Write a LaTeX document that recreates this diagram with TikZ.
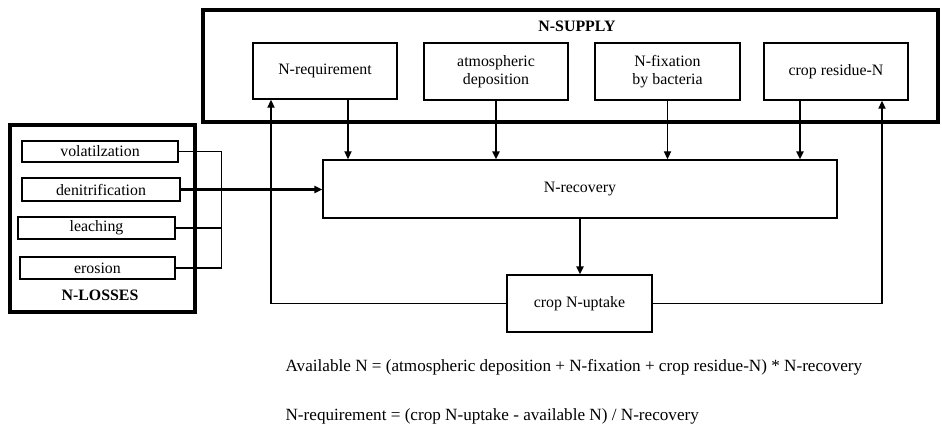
\documentclass[tikz,border=0pt]{standalone}
\usepackage{fontspec}
\setmainfont{Liberation Serif}
\usetikzlibrary{calc,arrows.meta}

\tikzset{
  box/.style={draw, line width=0.9pt, inner sep=0pt, align=center, font=\fontsize{10}{11.5}\selectfont},
  size/.style 2 args={minimum width=#1*0.63pt, minimum height=#2*0.63pt},
  frame/.style={draw, line width=2.4pt},
  head/.style={font=\fontsize{10}{12}\selectfont\bfseries},
  link/.style={line width=0.8pt},
  flow/.style={link, -{Triangle[length=5pt,width=4.5pt]}},
  bigflow/.style={flow, line width=1.3pt},
  formula/.style={anchor=west, font=\fontsize{10.8}{13}\selectfont},
}

\begin{document}
\begin{tikzpicture}[x=0.63pt,y=-0.63pt]
    \useasboundingbox (0,0) rectangle (942,425);

    % supply side
    \draw[frame] (203,10) rectangle (938,122);
    \node[head] (supplylbl) at (577,26) {N-SUPPLY};
    \node[box, size={144}{56}] (nreq) at (325,71) {N-requirement};
    \node[box, size={144}{57}] (atmos) at (496,71.5) {atmospheric\\deposition};
    \node[box, size={145}{57}] (nfix) at (667.5,71.5) {N-fixation\\by bacteria};
    \node[box, size={144}{57}] (resid) at (836,71.5) {crop residue-N};

    % losses
    \draw[frame] (10,125) rectangle (195,312);
    \node[head] (losslbl) at (100,295) {N-LOSSES};
    \node[box, size={156}{21}] (volat) at (100,151.5) {volatilzation};
    \node[box, size={158}{23}] (denit) at (101,189.5) {denitrification};
    \node[box, size={157}{22}] (leach) at (96.5,228) {leaching};
    \node[box, size={155}{22}] (eros) at (97.5,268) {erosion};

    \node[box, size={514}{58}] (recov) at (580,189) {N-recovery};
    \node[box, size={145}{57}] (uptake) at (579.5,303.5) {crop N-uptake};

    % supply -> recovery
    \coordinate (nreqout) at ($(nreq.south)+(23,0)$);
    \coordinate (residout) at ($(resid.south)+(-36,0)$);
    \draw[flow] (nreqout) -- (nreqout |- recov.north);
    \draw[bigflow] (atmos.south) -- (atmos.south |- recov.north);
    \draw[flow] (nfix.south) -- (nfix.south |- recov.north);
    \draw[bigflow] (residout) -- (residout |- recov.north);

    % losses -> recovery
    \coordinate (bracket) at ($(volat.east)+(43,0)$);
    \draw[link] (volat.east) -- (bracket) |- (eros.east);
    \draw[link] (leach.east) -- (leach.east -| bracket);
    \draw[bigflow] (denit.east) -- (denit.east -| recov.west);

    % uptake and feedback
    \draw[bigflow] (recov.south) -- (recov.south |- uptake.north);
    \coordinate (nreqin) at ($(nreq.south)+(-54,0)$);
    \coordinate (residin) at ($(resid.south)+(46,0)$);
    \draw[flow] (uptake.west) -| (nreqin);
    \draw[flow] (uptake.east) -| (residin);

    % formulas
    \node[formula] (eqavail) at (280,367)
        {Available N = (atmospheric deposition + N-fixation + crop residue-N) * N-recovery};
    \node[formula] (eqreq) at (280,416)
        {N-requirement = (crop N-uptake - available N) / N-recovery};

\end{tikzpicture}
\end{document}
